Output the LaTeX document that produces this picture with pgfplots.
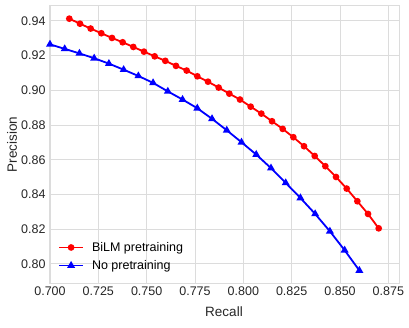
\documentclass[border=0pt]{standalone}
\usepackage{fontspec}
\setmainfont{Liberation Sans}
\usepackage{pgfplots}
\pgfplotsset{compat=1.18}
\definecolor{gridgray}{HTML}{DCDCDC}

\pgfplotstableread{
recall precision
0.71000 0.9413
0.71552 0.9384
0.72103 0.9356
0.72655 0.9329
0.73207 0.9302
0.73759 0.9277
0.74310 0.9250
0.74862 0.9223
0.75414 0.9196
0.75966 0.9170
0.76517 0.9141
0.77069 0.9114
0.77621 0.9081
0.78172 0.9050
0.78724 0.9016
0.79276 0.8981
0.79828 0.8947
0.80379 0.8906
0.80931 0.8866
0.81483 0.8822
0.82034 0.8778
0.82586 0.8730
0.83138 0.8678
0.83690 0.8622
0.84241 0.8563
0.84793 0.8501
0.85345 0.8434
0.85897 0.8361
0.86448 0.8288
0.87000 0.8205
}\bilm

\pgfplotstableread{
recall precision
0.70000 0.9265
0.70762 0.9239
0.71524 0.9213
0.72286 0.9185
0.73048 0.9154
0.73810 0.9119
0.74571 0.9083
0.75333 0.9043
0.76095 0.8994
0.76857 0.8947
0.77619 0.8897
0.78381 0.8836
0.79143 0.8770
0.79905 0.8701
0.80667 0.8630
0.81429 0.8552
0.82190 0.8467
0.82952 0.8380
0.83714 0.8288
0.84476 0.8188
0.85238 0.8079
0.86000 0.7962
}\nopre

\begin{document}
\begin{tikzpicture}
\path[use as bounding box] (-49pt,-44pt) rectangle (360pt,283pt);
\begin{axis}[
    at={(0pt,0pt)}, anchor=south west,
    scale only axis, width=350pt, height=277pt,
    xmin=0.6995, xmax=0.8805, ymin=0.789, ymax=0.9486,
    xtick={0.700,0.725,0.750,0.775,0.800,0.825,0.850,0.875},
    ytick={0.80,0.82,0.84,0.86,0.88,0.90,0.92,0.94},
    xticklabel style={/pgf/number format/.cd,fixed,fixed zerofill,precision=3,assume math mode=true},
    yticklabel style={/pgf/number format/.cd,fixed,fixed zerofill,precision=2,assume math mode=true},
    scaled ticks=false,
    tick label style={font=\fontsize{12.5}{15}\selectfont, text=black!85},
    grid=major, major grid style={gridgray, line width=0.9pt},
    axis line style={gridgray, line width=1pt},
    tick style={draw=none},
    xlabel={Recall}, ylabel={Precision},
    label style={font=\fontsize{13.5}{16}\selectfont, text=black!85},
    xlabel style={at={(axis description cs:0.5,0)}, anchor=center, yshift=-28.7pt},
    ylabel style={at={(axis description cs:0,0.5)}, anchor=center, rotate=0, yshift=37pt},
    legend style={at={(0,0)}, anchor=south west, xshift=6pt, yshift=8pt,
        draw=none, fill=none, font=\fontsize{12.5}{15}\selectfont,
        cells={anchor=west}, row sep=3.5pt,
        /tikz/every odd column/.append style={column sep=6pt}},
    legend image code/.code={
        \draw[mark repeat=2,mark phase=2] plot coordinates {(0pt,0pt) (12pt,0pt) (24pt,0pt)};
    },
]
\addplot[red, line width=1.8pt, mark=*, mark size=2.4pt] table[x=recall,y=precision] {\bilm};
\addlegendentry{BiLM pretraining}
\addplot[blue, line width=1.8pt, mark=triangle*, mark size=2.8pt] table[x=recall,y=precision] {\nopre};
\addlegendentry{No pretraining}
\end{axis}
\end{tikzpicture}
\end{document}
